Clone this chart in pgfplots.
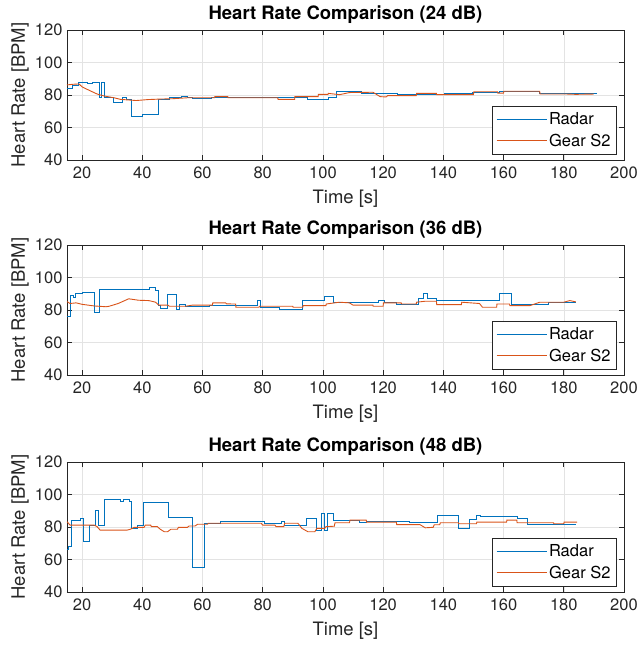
\documentclass[border=0pt]{standalone}
\usepackage{fontspec}
\setmainfont{TeX Gyre Heros}
\usepackage{pgfplots}
\pgfplotsset{compat=1.18}
\definecolor{mblue}{rgb}{0,0.447,0.741}
\definecolor{morange}{rgb}{0.85,0.325,0.098}
\definecolor{maxis}{rgb}{0.15,0.15,0.15}
\pgfplotsset{
  hrstyle/.style={
    scale only axis, width=557pt, height=130pt,
    xmin=15, xmax=200, ymin=40, ymax=120,
    xtick={20,40,...,200}, ytick={40,60,...,120},
    tick align=inside, major tick length=5pt,
    xtick pos=both, ytick pos=both,
    grid=major, major grid style={gray!22, line width=0.5pt},
    axis line style={maxis, line width=0.6pt},
    every tick/.style={maxis, line width=0.6pt},
    tick label style={font=\fontsize{16.5}{18}\selectfont, text=maxis},
    xticklabel style={yshift=-3pt},
    yticklabel style={xshift=-1pt},
    /pgf/number format/assume math mode=true,
    xlabel={Time [s]}, ylabel={Heart Rate [BPM]},
    label style={font=\fontsize{18.5}{20}\selectfont, text=maxis},
    ylabel style={at={(axis description cs:-0.084,0.5)}, anchor=center, rotate=0},
    xlabel style={at={(axis description cs:0.5,-0.30)}, anchor=center},
    title style={font=\bfseries\fontsize{18.5}{20}\selectfont, at={(axis description cs:0.5,1.075)}, anchor=center},
    legend style={at={(0.987,0.046)}, anchor=south east, draw=maxis, line width=0.5pt,
      font=\fontsize{16.5}{19}\selectfont, cells={anchor=west}, inner xsep=4pt, inner ysep=4pt, row sep=4pt},
    legend image code/.code={\draw[#1, line width=0.9pt] (0pt,0pt) -- (50pt,0pt);},
    every axis plot/.append style={line width=0.9pt},
  }
}
\begin{document}
\begin{tikzpicture}
\useasboundingbox (-67pt,-490pt) rectangle (572pt,160pt);
% ---------- Panel 1 ----------
\begin{axis}[hrstyle, at={(0pt,0pt)}, anchor=south west, title={Heart Rate Comparison (24 dB)}]
\addplot[mblue, const plot] coordinates {
(15,84) (16.7,85.6) (18.9,87.7) (21.7,86.9) (23.4,87.7) (25.9,78.3) (26.6,88) (27.5,78.6)
(30.5,75.2) (33.5,78.3) (34.6,77.3) (36.3,66.9) (40.2,67.8) (45.3,77.3) (49,78.7) (52,78.3)
(53,78.9) (55,78.3) (56.7,77.7) (63,78.7) (95,77.3) (101.7,78.5) (104.4,82.2) (112.7,80.8)
(124.9,80.2) (140.4,81.2) (149.8,81.7) (158.7,82.3) (172,80.8) (191,80.8)};
\addlegendentry{Radar}
\addplot[morange] coordinates {
(15,86.2) (17,86.6) (19,86.8) (20,85) (22.8,82.5) (25,80.6) (27.3,79.4) (30.6,78.3) (32.8,77.3)
(38,76.6) (42,77.2) (46,77.5) (50,77.7) (55,78.3) (64,78.3) (64.1,79) (68.4,79) (68.5,78.3)
(85,78.3) (85.1,77.3) (90.6,77.3) (90.7,79) (98.4,79) (98.5,80.4) (101.7,80.4) (101.8,81)
(105.5,80.2) (108.8,81.5) (116.6,81.7) (119,79) (121,78.8) (121.5,79.6) (131,79.6) (131.1,81)
(137.7,81) (137.8,80.2) (150,80.2) (150.1,82) (158,82) (158.1,81.2) (160,81.2) (160.1,82.3)
(172,82.3) (172.1,80.6) (181,80.6) (184,80.4) (190,80.6)};
\addlegendentry{Gear S2}
\end{axis}
% ---------- Panel 2 ----------
\begin{axis}[hrstyle, at={(0pt,-215pt)}, anchor=south west, title={Heart Rate Comparison (36 dB)}]
\addplot[mblue, const plot] coordinates {
(15,76.3) (16.1,89) (17.3,88) (17.9,90) (20,90.6) (24,78.5) (25.8,92.7) (42.4,93.7) (44.4,92)
(45.4,83) (46.2,81) (48.4,89.4) (51.3,80.6) (52.3,83.5) (54.5,82) (62.2,83) (78.3,85.8)
(79.4,81.7) (85.5,80.6) (93.3,85.8) (100.5,88.5) (103.5,84.5) (118.3,85.8) (120.5,84.4)
(124.4,83.6) (131.6,86.9) (133.5,90.4) (134.6,86.9) (137.7,85.8) (158.6,90) (162.7,83.5)
(175,84.6) (184.2,84.6)};
\addlegendentry{Radar}
\addplot[morange] coordinates {
(15,85.2) (16,84) (18,84.4) (20,83.5) (22,83) (24,82.5) (28,82) (29,82.3) (32,84) (35.5,86.9)
(38.8,86) (42.2,85.8) (44.4,84.8) (45.5,83) (48.5,83) (49,82.3) (54.4,82.3) (56.6,83) (63.3,83)
(63.4,84.4) (67.7,84.4) (68,83.75) (71,83.7) (71.1,81.7) (78.8,81.7) (78.9,82.3) (90,82.3)
(90.1,81.7) (93.3,81.7) (93.4,82.7) (101,82.7) (101.1,83.7) (105.5,84.8) (108.8,84.4) (110,83)
(116.6,83) (116.7,82.3) (120,82.3) (120.1,84.4) (126,84.4) (126.1,83.7) (131,83.7) (131.1,84.8)
(134,85.4) (137.7,85.4) (137.8,83.3) (146,83.3) (146.1,84.8) (152,84) (153,81.7) (157.7,81.7)
(157.8,83.7) (162,83.7) (162.1,82.7) (168.8,82.7) (172,84.8) (180,84.8) (182,85.8) (184,85)};
\addlegendentry{Gear S2}
\end{axis}
% ---------- Panel 3 ----------
\begin{axis}[hrstyle, at={(0pt,-432pt)}, anchor=south west, title={Heart Rate Comparison (48 dB)}]
\addplot[mblue, const plot] coordinates {
(15,66.2) (15.6,67.8) (16.4,84.3) (19.5,85.4) (20.4,71.3) (22.6,81.2) (24.5,90.1) (25.6,81.2)
(27.3,97.1) (32.8,95.7) (33.7,97.1) (35.6,95.7) (36.5,79.2) (38.4,81.2) (40.4,95.1) (48.6,86)
(56.7,55.1) (60.6,82.3) (65.9,83.3) (80.6,82.3) (86.2,83.3) (87.3,81.2) (94.5,85.4) (97.8,78.1)
(99.5,88.1) (100.6,78.1) (101.4,88.1) (103.6,84) (112.2,82.6) (114.4,83.6) (128.8,82.6)
(138,87.1) (145,78.9) (148.8,84.6) (151,87.1) (152.2,86.7) (164.5,85) (168,81.8) (184,81.8)};
\addlegendentry{Radar}
\addplot[morange] coordinates {
(15,83.3) (16,81.2) (24,81.2) (25,80.2) (26,78.1) (35,78.1) (36,78.6) (37.3,79.8) (40.6,79.8)
(41,81.2) (42.8,81.2) (43,80.2) (45,80.2) (46,78.6) (47.3,77.1) (48.4,77.1) (49.5,78.6)
(51.7,78.6) (52,79.8) (55,79.8) (55.5,80.6) (57.5,80.6) (58.4,81.7) (61.7,81.7) (62,82.3)
(79.5,82.3) (80,81.2) (84,81.2) (84.5,80.2) (87,80.2) (87.3,82.3) (91.7,82.3) (93,79.2)
(95,77.1) (97.3,77.1) (98,79.2) (100.6,79.2) (101,80.2) (103.8,80.5) (104,82.6) (108.8,82.6)
(109,84.2) (114.4,84.2) (114.5,83) (124.4,83) (124.5,81.5) (132.2,81.5) (134,79.5) (136.6,79.8)
(137,81.4) (138.8,81.4) (139,82.6) (145,82.6) (145.1,82) (151,82) (151.1,83) (161,83)
(161.1,84.2) (164.4,84.2) (164.5,82.6) (176.6,82.6) (176.7,82) (180,82) (180.1,83) (184.4,83)};
\addlegendentry{Gear S2}
\end{axis}
\end{tikzpicture}
\end{document}
